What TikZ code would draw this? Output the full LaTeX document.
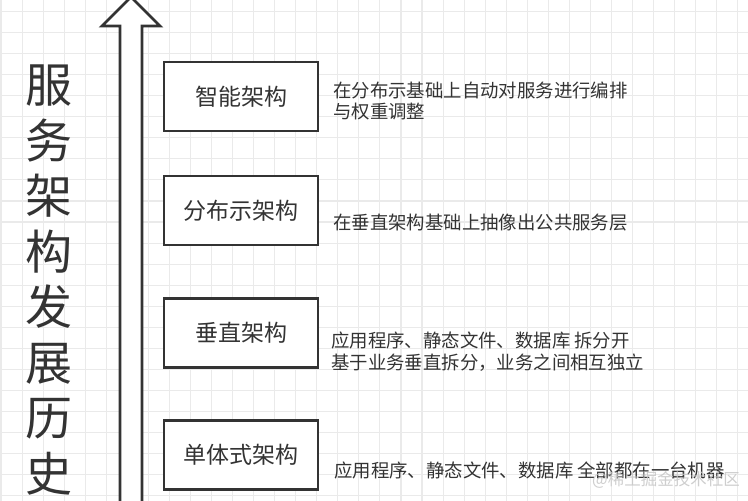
\documentclass[tikz,border=0pt]{standalone}
\usepackage{fontspec}
\setmainfont{Noto Sans CJK SC}
\usetikzlibrary{positioning}
\definecolor{inkgray}{HTML}{333333}
\definecolor{gridgray}{HTML}{EAEAEA}

\begin{document}
\begin{tikzpicture}[
  x=1pt,y=-1pt,
  text=inkgray,
  archbox/.style={draw=inkgray,line width=2.4pt,fill=white,
    minimum width=154pt,minimum height=69pt,
    font=\fontsize{23}{26}\selectfont},
  desc/.style={anchor=west,align=left,inner sep=0pt,
    font=\fontsize{18.4}{21.5}\selectfont}
]
  \useasboundingbox (0,0) rectangle (748,501);
  \clip (0,0) rectangle (748,501);
  \fill[white] (0,0) rectangle (748,501);

  % grid
  \foreach \i in {0,...,35}
    \draw[gridgray,line width=1.1pt] (1+21.05*\i,0) -- (1+21.05*\i,501);
  \foreach \j in {0,...,23}
    \draw[gridgray,line width=1.1pt] (0,11.5+21.05*\j) -- (748,11.5+21.05*\j);

  % time arrow
  \draw[inkgray,line width=2.8pt,fill=white,line join=miter]
    (120,515) -- (120,26) -- (102,26) -- (131,-3) -- (160,26)
    -- (142,26) -- (142,515);

  \node[font=\fontsize{47}{55.5}\selectfont,align=center] (title) at (49,280)
    {服\\务\\架\\构\\发\\展\\历\\史};

  \node[archbox] (smart) at (241,96.5) {智能架构};
  \node[archbox] (dist) at (241,210.5) {分布示架构};
  \node[archbox] (vert) at (241,333) {垂直架构};
  \node[archbox] (mono) at (241,455) {单体式架构};

  \node[desc] (smartdesc) at (333,101)
    {在分布示基础上自动对服务进行编排\\与权重调整};
  \node[desc] (distdesc) at (333,223)
    {在垂直架构基础上抽像出公共服务层};
  \node[desc] (vertdesc) at (331,351.7)
    {应用程序、静态文件、数据库 拆分开\\基于业务垂直拆分，业务之间相互独立};
  \node[desc] (monodesc) at (334,470)
    {应用程序、静态文件、数据库 全部都在一台机器};

  \node[anchor=west,inner sep=0pt,text=gray!45,opacity=0.85,
    font=\fontsize{16.5}{18}\selectfont] (mark) at (592,480)
    {@稀土掘金技术社区};
\end{tikzpicture}
\end{document}
